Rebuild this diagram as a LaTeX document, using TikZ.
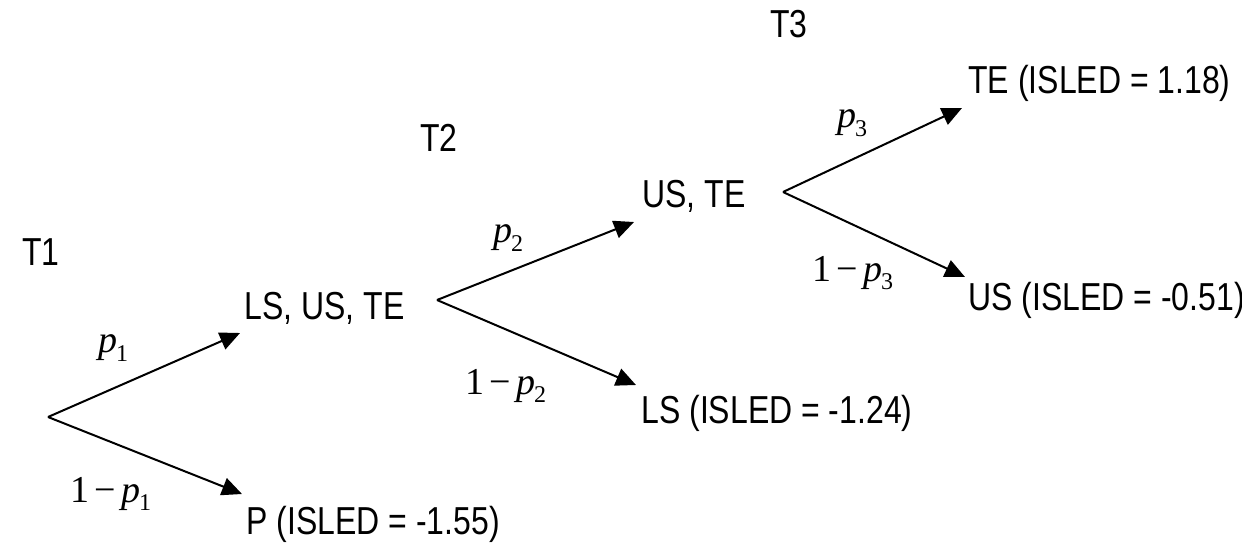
\documentclass[tikz,border=0pt]{standalone}
\usepackage{fontspec}
\setmainfont[FakeStretch=0.82]{Liberation Sans}
\newfontfamily\probfont{Liberation Serif}
\usetikzlibrary{arrows.meta}
\newcommand{\pr}[1]{\textit{p}\kern-0.5pt\raisebox{-0.22em}{\fontsize{12}{13}\selectfont #1}}
\newcommand{\qr}[1]{1\kern2.5pt−\kern2.5pt\pr{#1}}
\tikzset{
  lbl/.style={anchor=base west, inner sep=0pt, font=\fontsize{19.5}{22}\selectfont},
  prob/.style={inner sep=0pt, font=\probfont\fontsize{19}{22}\selectfont},
  branch/.style={line width=1pt, -{Triangle[length=10pt,width=9pt]}}
}
\begin{document}
\begin{tikzpicture}[x=0.5pt,y=-0.5pt]
\useasboundingbox (0,0) rectangle (1242,547);
% stage labels
\node[lbl] (t1) at (22,265) {T1};
\node[lbl] (t2) at (420,151) {T2};
\node[lbl] (t3) at (770,37) {T3};
% states
\node[lbl] (lsuste) at (244,319) {LS, US, TE};
\node[lbl] (p) at (246,534) {P (ISLED = -1.55)};
\node[lbl] (uste) at (642,207) {US, TE};
\node[lbl] (ls) at (641,423) {LS (ISLED = -1.24)};
\node[lbl] (te) at (968,93) {TE (ISLED = 1.18)};
\node[lbl] (us) at (968,310) {US (ISLED = -0.51)};
% branch points and arrow tips
\coordinate (r1) at (48,417);
\coordinate (a1) at (240,333);
\coordinate (b1) at (242,494);
\coordinate (r2) at (437,300);
\coordinate (a2) at (634,222);
\coordinate (b2) at (636,385);
\coordinate (r3) at (783,192);
\coordinate (a3) at (962,108);
\coordinate (b3) at (965,277);
\draw[branch] (r1) -- (a1);
\draw[branch] (r1) -- (b1);
\draw[branch] (r2) -- (a2);
\draw[branch] (r2) -- (b2);
\draw[branch] (r3) -- (a3);
\draw[branch] (r3) -- (b3);
% probabilities
\node[prob] (q1) at (113,348) {\pr{1}};
\node[prob] (q1c) at (111,494) {\qr{1}};
\node[prob] (q2) at (508,238) {\pr{2}};
\node[prob] (q2c) at (506,386) {\qr{2}};
\node[prob] (q3) at (852,123) {\pr{3}};
\node[prob] (q3c) at (853,273) {\qr{3}};
\end{tikzpicture}
\end{document}
